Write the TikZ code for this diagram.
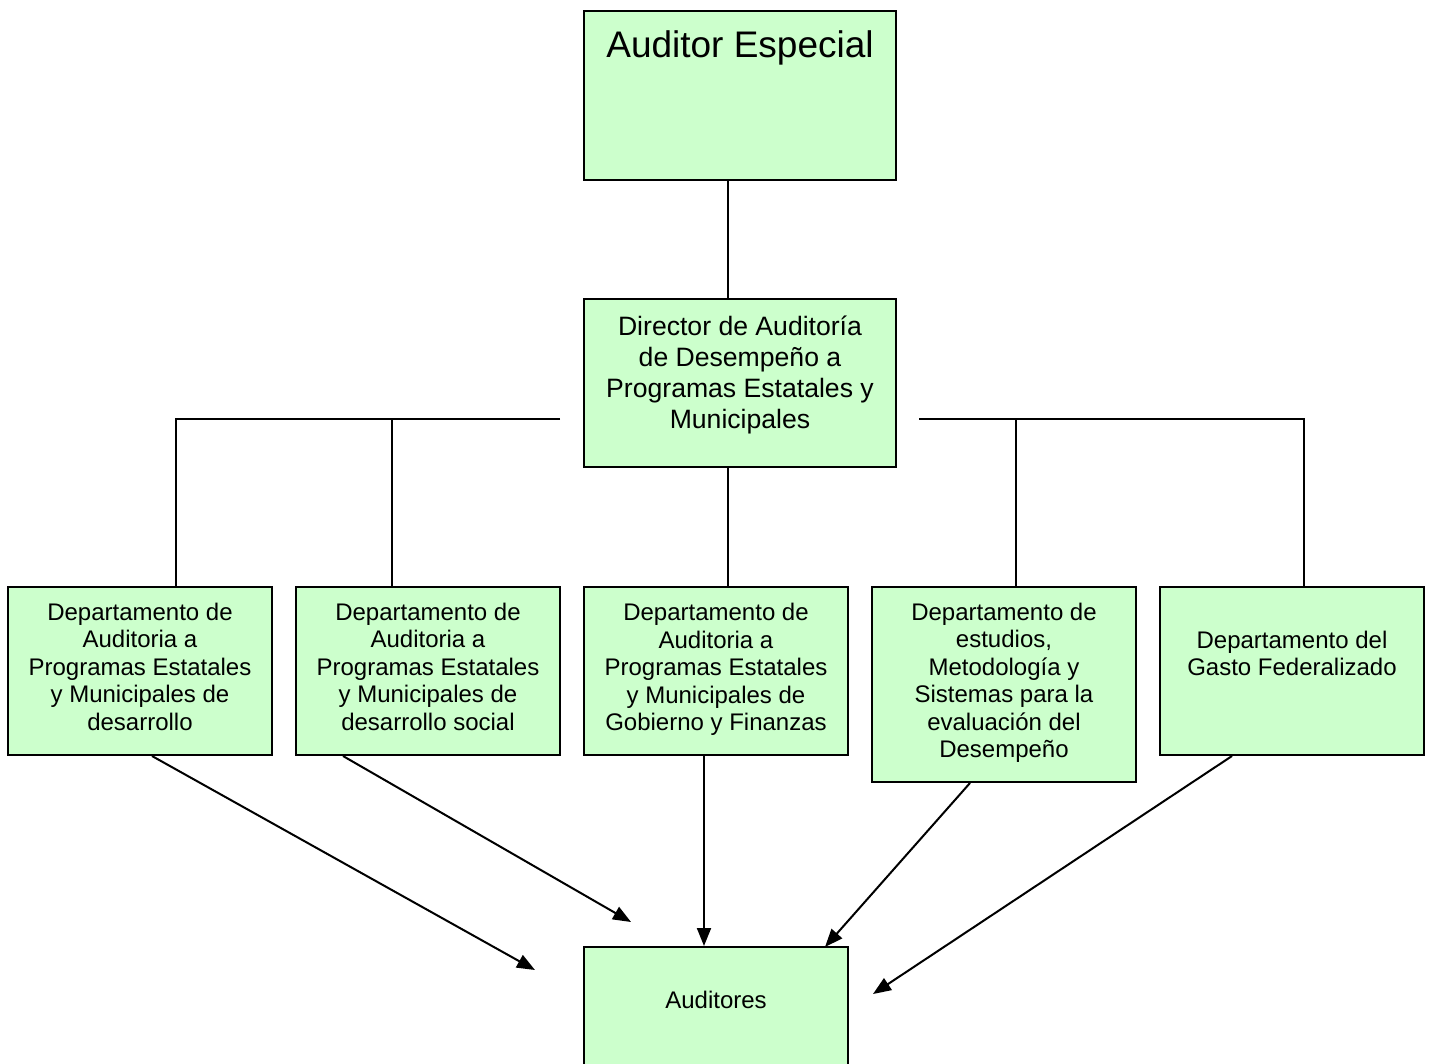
\documentclass[tikz,border=0pt]{standalone}
\usepackage{fontspec}
\setmainfont{Liberation Sans}
\usetikzlibrary{arrows.meta}
\definecolor{boxgreen}{HTML}{CCFFCC}
\tikzset{
  orgbox/.style={draw=black, fill=boxgreen, line width=1pt, rectangle, inner sep=0pt},
  orgtext/.style={align=center, inner sep=0pt, font=\fontsize{12pt}{13.75pt}\selectfont},
  conn/.style={line width=1pt},
  arr/.style={line width=1pt, -{Triangle[length=9pt,width=7pt]}},
}
\begin{document}
\begin{tikzpicture}[x=0.5pt,y=-0.5pt]
\useasboundingbox (0,0) rectangle (1430,1064);
% boxes
\node[orgbox, minimum width=156pt, minimum height=84.5pt] (ae) at (740,95.5) {};
\node[orgbox, minimum width=156pt, minimum height=84pt] (dir) at (740,383) {};
\node[orgbox, minimum width=132pt, minimum height=84pt] (d1) at (140,671) {};
\node[orgbox, minimum width=132pt, minimum height=84pt] (d2) at (428,671) {};
\node[orgbox, minimum width=132pt, minimum height=84pt] (d3) at (716,671) {};
\node[orgbox, minimum width=132pt, minimum height=97.5pt] (d4) at (1004,684.5) {};
\node[orgbox, minimum width=132pt, minimum height=84pt] (d5) at (1292,671) {};
\node[orgbox, minimum width=132pt, minimum height=62pt] (aud) at (716,1009) {};
% texts
\node[orgtext, font=\fontsize{18.5pt}{22pt}\selectfont] (tae) at (740,48) {Auditor Especial};
\node[orgtext, font=\fontsize{13.3pt}{15.5pt}\selectfont] (tdir) at (740,375) {Director de Auditoría\\de Desempeño a\\Programas Estatales y\\Municipales};
\node[orgtext] (td1) at (140,666.5) {Departamento de\\Auditoria a\\Programas Estatales\\y Municipales de\\desarrollo};
\node[orgtext] (td2) at (428,666.5) {Departamento de\\Auditoria a\\Programas Estatales\\y Municipales de\\desarrollo social};
\node[orgtext] (td3) at (716,669.5) {Departamento de\\Auditoria a\\Programas Estatales\\y Municipales de\\Gobierno y Finanzas};
\node[orgtext] (td4) at (1004,683) {Departamento de\\estudios,\\Metodología y\\Sistemas para la\\evaluación del\\Desempeño};
\node[orgtext] (td5) at (1292,653.5) {Departamento del\\Gasto Federalizado};
\node[orgtext] (taud) at (716,1000) {Auditores};
% connector points
\coordinate (hl) at (560,419);
\coordinate (hr) at (919,419);
\coordinate (a1) at (535,970);
\coordinate (a2) at (631,922);
\coordinate (a4) at (825,947);
\coordinate (a5) at (873,994);
% tree lines
\draw[conn] (ae.south -| 728,0) -- (dir.north -| 728,0);
\draw[conn] (dir.south -| 728,0) -- (d3.north -| 728,0);
\draw[conn] (hl) -- (176,419) -- (d1.north -| 176,0);
\draw[conn] (392,419) -- (d2.north -| 392,0);
\draw[conn] (hr) -- (1304,419) -- (d5.north -| 1304,0);
\draw[conn] (1016,419) -- (d4.north -| 1016,0);
% arrows
\draw[arr] (d1.south -| 152,0) -- (a1);
\draw[arr] (d2.south -| 343,0) -- (a2);
\draw[arr] (d3.south -| 704,0) -- (aud.north -| 704,0);
\draw[arr] (d4.south -| 970,0) -- (a4);
\draw[arr] (d5.south -| 1232,0) -- (a5);
\end{tikzpicture}
\end{document}
